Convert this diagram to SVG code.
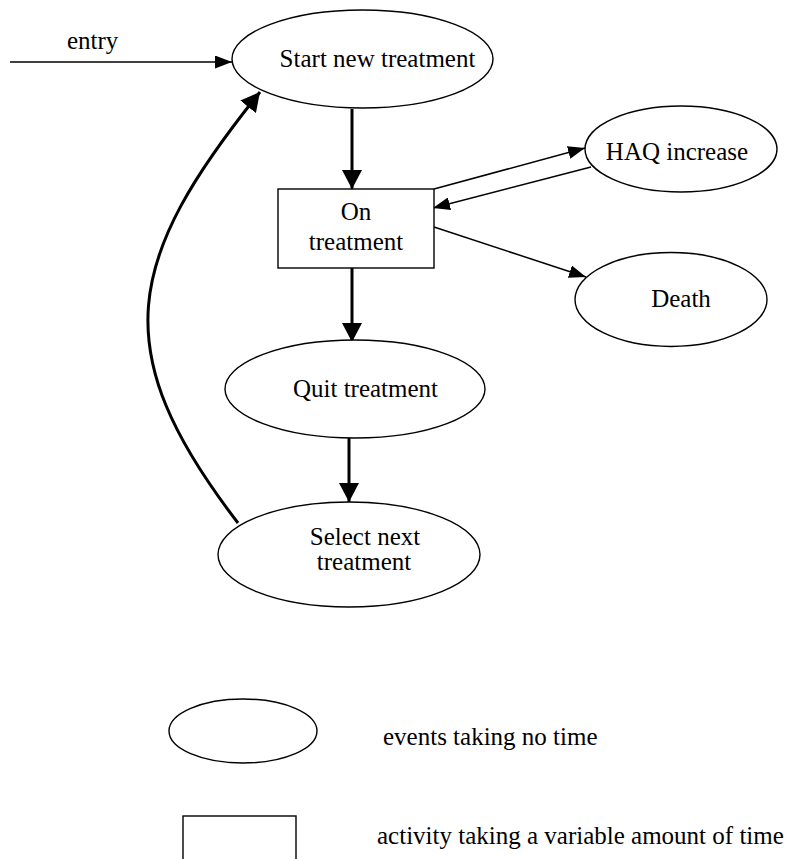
<svg xmlns="http://www.w3.org/2000/svg" width="787" height="859" viewBox="0 0 787 859">
  <style>
    .node { fill: #ffffff; stroke: #000000; stroke-width: 1.4; }
    .lbl { font-family: "Liberation Serif", "Times New Roman", serif; font-size: 25px; fill: #000000; }
    .mid { text-anchor: middle; }
    .thin { fill: none; stroke: #000000; stroke-width: 1.5; marker-end: url(#arrowThin); }
    .thick { fill: none; stroke: #000000; stroke-width: 3; marker-end: url(#arrowThick); }
  </style>
  <defs>
    <marker id="arrowThin" viewBox="0 0 17 13" markerWidth="17" markerHeight="13" refX="17" refY="6.5" orient="auto" markerUnits="userSpaceOnUse">
      <path d="M0,0 L17,6.5 L0,13 z" fill="#000000"/>
    </marker>
    <marker id="arrowThick" viewBox="0 0 19 20" markerWidth="19" markerHeight="20" refX="19" refY="10" orient="auto" markerUnits="userSpaceOnUse">
      <path d="M0,0 L19,10 L0,20 z" fill="#000000"/>
    </marker>
  </defs>
  <rect width="787" height="859" fill="#ffffff"/>

  <g id="connectors">
    <line class="thin" x1="10" y1="62" x2="232" y2="62"/>
    <line class="thick" x1="352" y1="109" x2="352" y2="189"/>
    <line class="thin" x1="434" y1="189" x2="585" y2="148"/>
    <line class="thin" x1="591" y1="167" x2="433" y2="208"/>
    <line class="thin" x1="434" y1="227" x2="586" y2="277"/>
    <line class="thick" x1="352" y1="268" x2="352" y2="342"/>
    <line class="thick" x1="349" y1="438" x2="349" y2="502"/>
    <path class="thick" d="M238,523 C105,350 125,260 260,92"/>
  </g>
  <text class="lbl" x="67" y="49">entry</text>

  <g id="start">
    <ellipse class="node" cx="362.5" cy="59" rx="130.5" ry="49"/>
    <text class="lbl mid" x="377.5" y="67">Start new treatment</text>
  </g>

  <g id="on-treatment">
    <rect class="node" x="278" y="189" width="156" height="79"/>
    <text class="lbl mid" x="356" y="220">On</text>
    <text class="lbl mid" x="356" y="250">treatment</text>
  </g>

  <g id="haq">
    <ellipse class="node" cx="681" cy="149" rx="96" ry="43"/>
    <text class="lbl mid" x="677" y="160">HAQ increase</text>
  </g>

  <g id="death">
    <ellipse class="node" cx="671" cy="299.5" rx="96" ry="47"/>
    <text class="lbl mid" x="681" y="307">Death</text>
  </g>

  <g id="quit">
    <ellipse class="node" cx="355" cy="389" rx="130" ry="49"/>
    <text class="lbl mid" x="365.5" y="397">Quit treatment</text>
  </g>

  <g id="select">
    <ellipse class="node" cx="349" cy="554.5" rx="131" ry="52.5"/>
    <text class="lbl mid" x="365" y="545">Select next</text>
    <text class="lbl mid" x="364" y="570">treatment</text>
  </g>

  <g id="legend-event">
    <ellipse class="node" cx="243" cy="731" rx="74" ry="32"/>
    <text class="lbl" x="383" y="745">events taking no time</text>
  </g>

  <g id="legend-activity">
    <rect class="node" x="183" y="816" width="113" height="60"/>
    <text class="lbl" x="377" y="844">activity taking a variable amount of time</text>
  </g>
</svg>
